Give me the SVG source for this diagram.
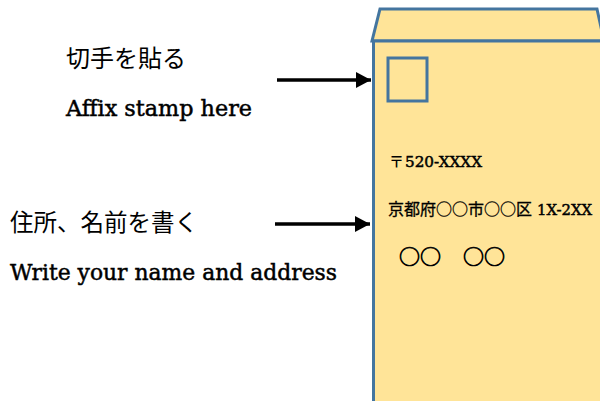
<svg xmlns="http://www.w3.org/2000/svg" width="600" height="401" viewBox="0 0 600 401">
<style>
.en{font-family:"DejaVu Serif","Noto Sans CJK JP",serif;fill:#000;stroke:#000;stroke-width:.5}
.ja{font-family:"Noto Sans CJK JP",sans-serif;fill:#000}
.c{stroke:#000;stroke-width:.7}
.s{fill:#ffe498;stroke:#44759f;stroke-width:3}
</style>
<defs><marker id="a" markerUnits="userSpaceOnUse" markerWidth="16" markerHeight="16" refX="15" refY="8" orient="auto"><path d="M0 0L15 8L0 16Z" fill="#000"/></marker></defs>
<rect width="600" height="401" fill="#fff"/>
<g id="envelope">
<path class="s" d="M602 41H372L380 9H597L602 32"/>
<path class="s" d="M373.500 41V403H602V41Z"/>
<rect class="s" x="388" y="58" width="39" height="43"/>
</g>
<g id="address">
<text class="ja" x="389" y="167" font-size="15" font-weight="500">〒</text>
<text class="en" x="405" y="167" font-size="15.500" textLength="77" lengthAdjust="spacingAndGlyphs">520-XXXX</text>
<text class="ja c" x="388" y="215" font-size="16" style="stroke-width:.3">京都府○○市○○区</text>
<text class="en" x="537" y="215" font-size="15.500" textLength="55" lengthAdjust="spacingAndGlyphs">1X-2XX</text>
<text class="ja c" x="399" y="264" font-size="21">○○</text>
<text class="ja c" x="463" y="264" font-size="21">○○</text>
</g>
<g id="label-stamp">
<text class="ja" x="66" y="67" font-size="24">切手を貼る</text>
<text class="en" x="66" y="116" font-size="23" textLength="186" lengthAdjust="spacingAndGlyphs">Affix stamp here</text>
</g>
<g id="label-address">
<text class="ja" x="10" y="231" font-size="23.500">住所、名前を書く</text>
<text class="en" x="10" y="280" font-size="23" textLength="327" lengthAdjust="spacingAndGlyphs">Write your name and address</text>
</g>
<g id="connectors" stroke="#000" stroke-width="3.500" fill="none">
<path d="M277 80H371" marker-end="url(#a)"/>
<path d="M275 224H370" marker-end="url(#a)"/>
</g>
</svg>
